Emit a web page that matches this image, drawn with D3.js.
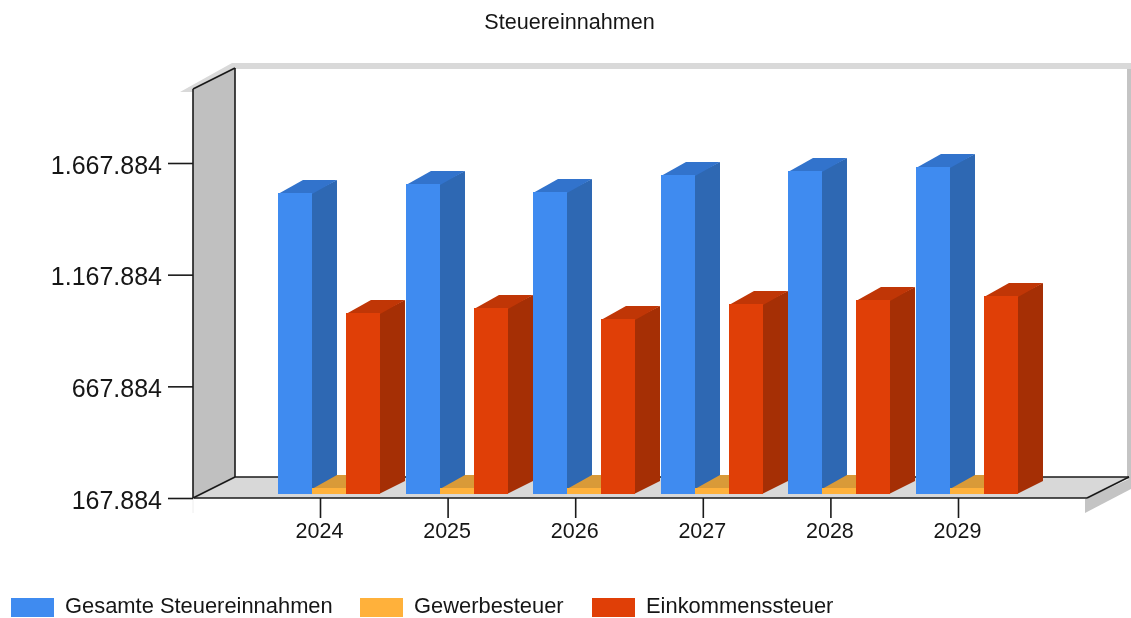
<!DOCTYPE html>
<html>
<head>
<meta charset="utf-8">
<title>Steuereinnahmen</title>
<script src="https://cdn.jsdelivr.net/npm/d3@7"></script>
<style>
  html, body { margin: 0; padding: 0; background: #fff; }
  svg { display: block; filter: blur(0.5px); }
  text { font-family: "Liberation Sans", Arial, sans-serif; fill: #161616; }
  .domain { display: none; }
</style>
</head>
<body>
<svg id="chart" width="1131" height="618"></svg>
<script>
var chartTitle = "Steuereinnahmen";
var years = ["2024", "2025", "2026", "2027", "2028", "2029"];
var yTicks = [167884, 667884, 1167884, 1667884];

var gesamt = [1515600, 1555900, 1520000, 1596200, 1614100, 1632000];
var gewerbe = [194700, 194700, 194700, 194700, 194700, 194700];
var einkommen = [978300, 1000700, 951500, 1018600, 1036500, 1054500];

var seriesNames = ["Gesamte Steuereinnahmen", "Gewerbesteuer", "Einkommenssteuer"];
var seriesValues = [gesamt, gewerbe, einkommen];
var seriesColors = [
  { front: "#3f8bf0", top: "#3273cc", side: "#2e68b3" },
  { front: "#ffb13b", top: "#d99a38", side: "#c08a30" },
  { front: "#e03f07", top: "#c03606", side: "#a52f05" }
];

var de = d3.formatLocale({ decimal: ",", thousands: ".", grouping: [3], currency: ["", " €"] });

var svg = d3.select("#chart");

// plot box, front plane of the 3d frame
var left = 193, right = 1087, bottom = 498, wallDx = 42, wallDy = 21, wallTop = 89;

var x = d3.scalePoint().domain(years).range([320, 958]);
var y = d3.scaleLinear().domain([167884, 1667884]).range([bottom, 163]);

// series slots inside one year
var barW = 34;
var slot = d3.scaleBand().domain([0, 1, 2]).range([-42, -42 + barW * 3]);

// bars stand a little behind the front edge, and have their own depth
var zDy = 4, barDx = 25, barDy = 13;

function pts(a) {
  return a.map(function(p) { return p.join(","); }).join(" ");
}

// frame
var frame = svg.append("g");
frame.append("polygon") // light band on top of the back wall
  .attr("points", pts([[180, 92], [232, 63], [1131, 63], [1131, 69], [235, 69], [193, 92]]))
  .attr("fill", "#d9d9d9");
frame.append("rect")
  .attr("x", 1127).attr("y", 69).attr("width", 4).attr("height", 410)
  .attr("fill", "#c4c4c4");
frame.append("polygon") // left wall
  .attr("points", pts([[left, wallTop], [left + wallDx, wallTop - wallDy], [left + wallDx, bottom - wallDy], [left, bottom]]))
  .attr("fill", "#c0c0c0");
frame.append("polygon") // floor
  .attr("points", pts([[left, bottom], [left + wallDx, bottom - wallDy], [right + wallDx, bottom - wallDy], [right, bottom]]))
  .attr("fill", "#d8d8d8");
frame.append("polygon") // floor edge on the right
  .attr("points", pts([[right - 2, bottom + 1], [right + wallDx + 2, bottom - wallDy + 1], [right + wallDx + 2, bottom - wallDy + 12], [right - 2, bottom + 15]]))
  .attr("fill", "#c4c4c4");

var lines = [
  [left, wallTop, left, bottom],
  [left + wallDx, wallTop - wallDy, left + wallDx, bottom - wallDy],
  [left, wallTop, left + wallDx, wallTop - wallDy],
  [left, bottom, left + wallDx, bottom - wallDy],
  [left + wallDx, bottom - wallDy, right + wallDx, bottom - wallDy],
  [right, bottom, right + wallDx, bottom - wallDy],
  [left, bottom, right, bottom]
];
frame.selectAll("line").data(lines).enter().append("line")
  .attr("x1", function(d) { return d[0]; })
  .attr("y1", function(d) { return d[1]; })
  .attr("x2", function(d) { return d[2]; })
  .attr("y2", function(d) { return d[3]; })
  .attr("stroke", "#1a1a1a")
  .attr("stroke-width", 1.6);

frame.append("line")
  .attr("x1", left).attr("x2", left)
  .attr("y1", bottom).attr("y2", bottom + 15)
  .attr("stroke", "#eeeeee");

// bars
var groups = svg.selectAll("g.year")
  .data(years)
  .enter().append("g")
  .attr("class", "year")
  .attr("transform", function(d) { return "translate(" + Math.round(x(d)) + ",0)"; });

groups.each(function(year, i) {
  var g = d3.select(this);
  seriesValues.forEach(function(vals, s) {
    var c = seriesColors[s];
    var x0 = slot(s);
    var x1 = x0 + barW;
    var yTop = Math.round(y(vals[i])) - zDy;
    var yBase = bottom - zDy;

    g.append("polygon")
      .attr("points", pts([[x1 - 1, yTop], [x1 + barDx, yTop - barDy], [x1 + barDx, yBase - barDy], [x1 - 1, yBase]]))
      .attr("fill", c.side);
    g.append("polygon")
      .attr("points", pts([[x0, yTop + 1], [x0 + barDx, yTop - barDy], [x1 + barDx, yTop - barDy], [x1, yTop + 1]]))
      .attr("fill", c.top);
    g.append("rect")
      .attr("x", x0)
      .attr("y", yTop)
      .attr("width", barW)
      .attr("height", yBase - yTop)
      .attr("fill", c.front);
  });
});

// axes
var yAxis = d3.axisLeft(y)
  .tickValues(yTicks)
  .tickSize(25)
  .tickPadding(6)
  .tickFormat(de.format(",d"));
var yG = svg.append("g")
  .attr("transform", "translate(" + left + ",0)")
  .call(yAxis);
yG.selectAll(".tick line").attr("stroke", "#1a1a1a").attr("stroke-width", 1.6);
yG.selectAll("text")
  .attr("font-size", 25)
  .attr("dy", "0.4em")
  .style("font-family", '"Liberation Sans"');

var xAxis = d3.axisBottom(x).tickSize(20).tickPadding(5);
var xG = svg.append("g")
  .attr("transform", "translate(0," + bottom + ")")
  .call(xAxis);
xG.selectAll(".tick line").attr("stroke", "#1a1a1a").attr("stroke-width", 1.6);
xG.selectAll("text")
  .attr("font-size", 21.5)
  .attr("dx", -1)
  .style("font-family", '"Liberation Sans"');

// title
svg.append("text")
  .attr("x", 569.5)
  .attr("y", 29)
  .attr("text-anchor", "middle")
  .attr("font-size", 21.6)
  .text(chartTitle);

// legend
var swatchX = [11, 360, 592];
var legend = svg.selectAll("g.legend")
  .data(seriesNames)
  .enter().append("g")
  .attr("class", "legend")
  .attr("transform", function(d, i) { return "translate(" + swatchX[i] + ",598)"; });

legend.append("rect")
  .attr("width", 43)
  .attr("height", 19)
  .attr("fill", function(d, i) { return seriesColors[i].front; });

// baseline kept high enough that the text box stays inside the window
legend.append("text")
  .attr("x", 54)
  .attr("y", 15.3)
  .attr("font-size", 21.9)
  .text(function(d) { return d; });
</script>
</body>
</html>
